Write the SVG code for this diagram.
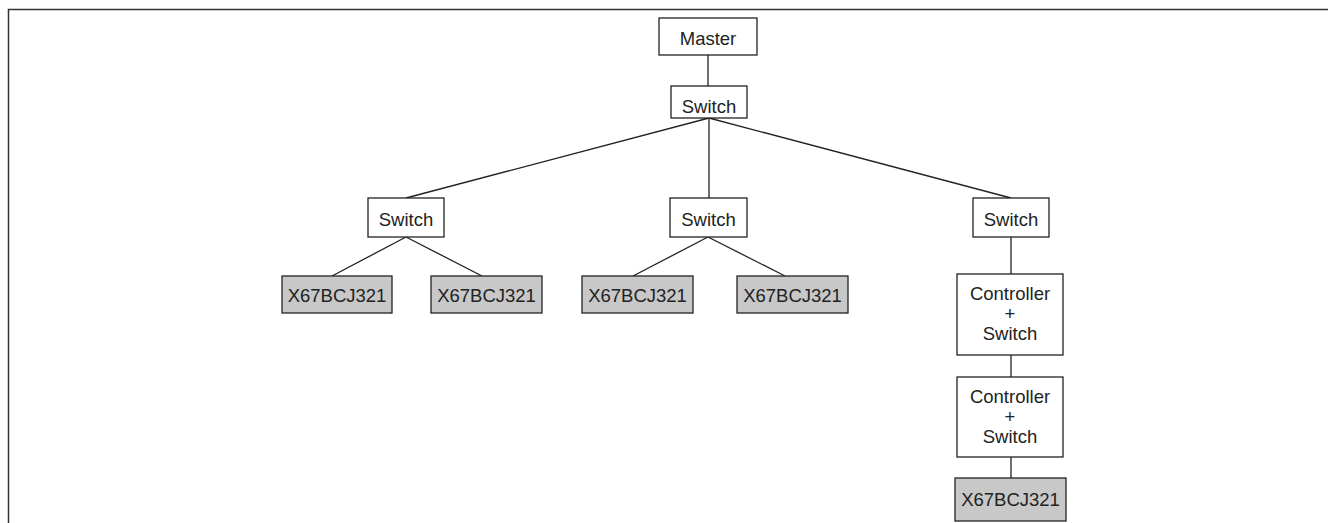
<svg xmlns="http://www.w3.org/2000/svg" width="1328" height="523" viewBox="0 0 1328 523">
  <style>
    .frame { fill: none; stroke: #333; stroke-width: 1.5; }
    .box { fill: #ffffff; stroke: #222; stroke-width: 1.3; }
    .dev { fill: #c8c8c8; stroke: #222; stroke-width: 1.3; }
    .link { fill: none; stroke: #222; stroke-width: 1.3; }
    text { font-family: "Liberation Sans", Arial, sans-serif; font-size: 18.5px; fill: #222; text-anchor: middle; }
  </style>
  <rect width="1328" height="523" fill="#ffffff"/>
  <!-- page frame: top and left edges -->
  <path class="frame" d="M8.5,523 V9.5 H1328"/>

  <g id="connectors">
    <line class="link" x1="708" y1="55" x2="708" y2="86"/>
    <line class="link" x1="709" y1="118" x2="406" y2="198"/>
    <line class="link" x1="709" y1="118" x2="709" y2="198"/>
    <line class="link" x1="709" y1="118" x2="1011" y2="198"/>
    <line class="link" x1="406" y1="237" x2="332" y2="276"/>
    <line class="link" x1="406" y1="237" x2="482" y2="276"/>
    <line class="link" x1="708" y1="237" x2="633" y2="276"/>
    <line class="link" x1="708" y1="237" x2="785" y2="276"/>
    <line class="link" x1="1011" y1="237" x2="1011" y2="274"/>
    <line class="link" x1="1011" y1="355" x2="1011" y2="377"/>
    <line class="link" x1="1011" y1="457" x2="1011" y2="478"/>
  </g>

  <g id="master">
    <rect class="box" x="659" y="18" width="98" height="37"/>
    <text x="708" y="45">Master</text>
  </g>
  <g id="switch-top">
    <rect class="box" x="671" y="86" width="76" height="32"/>
    <text x="709" y="113">Switch</text>
  </g>
  <g id="switch-left">
    <rect class="box" x="368" y="198" width="76" height="39"/>
    <text x="406" y="225.5">Switch</text>
  </g>
  <g id="switch-mid">
    <rect class="box" x="670" y="198" width="77" height="39"/>
    <text x="708.5" y="225.5">Switch</text>
  </g>
  <g id="switch-right">
    <rect class="box" x="973" y="198" width="76" height="39"/>
    <text x="1011" y="225.5">Switch</text>
  </g>

  <g id="x67-l1">
    <rect class="dev" x="282" y="276" width="110" height="37"/>
    <text x="337" y="301.5">X67BCJ321</text>
  </g>
  <g id="x67-l2">
    <rect class="dev" x="431" y="276" width="111" height="37"/>
    <text x="486.5" y="301.5">X67BCJ321</text>
  </g>
  <g id="x67-m1">
    <rect class="dev" x="582" y="276" width="111" height="37"/>
    <text x="637.5" y="301.5">X67BCJ321</text>
  </g>
  <g id="x67-m2">
    <rect class="dev" x="737" y="276" width="111" height="37"/>
    <text x="792.5" y="301.5">X67BCJ321</text>
  </g>

  <g id="ctrl-1">
    <rect class="box" x="957" y="274" width="106" height="81"/>
    <text x="1010" y="300">Controller</text>
    <text x="1010" y="320">+</text>
    <text x="1010" y="340">Switch</text>
  </g>
  <g id="ctrl-2">
    <rect class="box" x="957" y="377" width="106" height="80"/>
    <text x="1010" y="403">Controller</text>
    <text x="1010" y="423">+</text>
    <text x="1010" y="443">Switch</text>
  </g>
  <g id="x67-r">
    <rect class="dev" x="955" y="478" width="111" height="43"/>
    <text x="1010.5" y="506">X67BCJ321</text>
  </g>
</svg>
